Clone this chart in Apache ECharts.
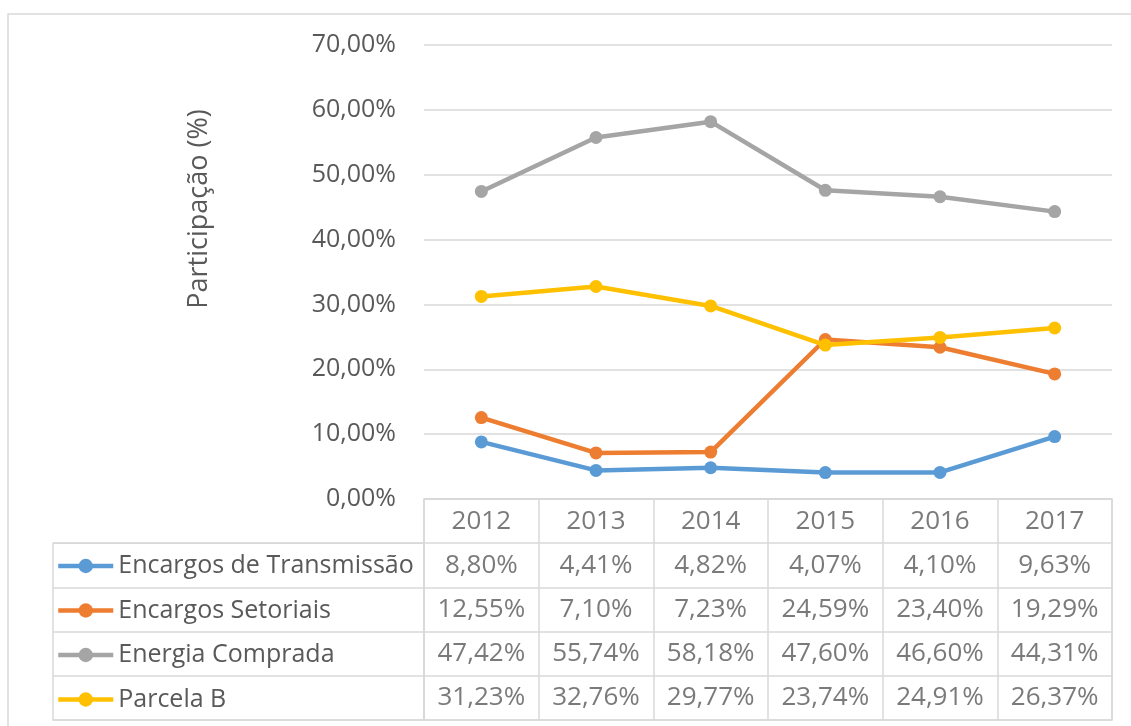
<!DOCTYPE html>
<html><head><meta charset="utf-8">
<script src="https://cdn.jsdelivr.net/npm/echarts@6/dist/echarts.min.js"></script>
<style>html,body{margin:0;padding:0;background:#fff}#c{width:1131px;height:726px}</style>
</head><body><div id="c"></div>
<script>
const years = ['2012','2013','2014','2015','2016','2017'];
const seriesNames = ['Encargos de Transmissão','Encargos Setoriais','Energia Comprada','Parcela B'];
const transmissao = [8.80, 4.41, 4.82, 4.07, 4.10, 9.63];
const setoriais = [12.55, 7.10, 7.23, 24.59, 23.40, 19.29];
const comprada = [47.42, 55.74, 58.18, 47.60, 46.60, 44.31];
const parcelaB = [31.23, 32.76, 29.77, 23.74, 24.91, 26.37];
const colors = ['#5B9BD5','#ED7D31','#A5A5A5','#FFC000'];
const yTicks = [0,10,20,30,40,50,60,70];

const allValues = [transmissao, setoriais, comprada, parcelaB];
const FONT = '"Open Sans", "Noto Sans", sans-serif';
const TXT = '#595959';
const GRID = '#d9d9d9';
const fmt = v => v.toFixed(2).replace('.', ',') + '%';

const tableRows = ['hdr'].concat(seriesNames);
const tableData = [];
years.forEach((y, i) => tableData.push([i, 0, y]));
allValues.forEach((arr, r) => arr.forEach((v, i) => tableData.push([i, r + 1, fmt(v)])));

const chart = echarts.init(document.getElementById('c'));
chart.setOption({
  animation: false,
  backgroundColor: '#fff',
  textStyle: { fontFamily: FONT },
  graphic: [
    { type: 'rect', shape: { x: 8, y: 14, width: 1200, height: 800 }, style: { fill: 'none', stroke: GRID, lineWidth: 1.5 }, silent: true, z: -10 },
    { type: 'text', x: 199, y: 209, rotation: Math.PI / 2, style: { text: 'Participação (%)', fontSize: 27, fontFamily: FONT, fill: TXT, align: 'center', verticalAlign: 'middle' } }
  ],
  legend: {
    orient: 'vertical', left: 51, top: 546, itemWidth: 55, itemHeight: 18, itemGap: 14.5,
    data: seriesNames, selectedMode: false,
    lineStyle: { width: 4.5 },
    textStyle: { fontSize: 25, color: TXT, fontFamily: FONT, lineHeight: 30 }
  },
  grid: [
    { left: 424, width: 688, top: 45, height: 454 },
    { left: 424, width: 688, top: 499, height: 221, show: true, borderColor: GRID, borderWidth: 1.5, backgroundColor: 'transparent' },
    { left: 53, width: 371, top: 543.2, height: 176.8, show: true, borderColor: GRID, borderWidth: 1.5, backgroundColor: 'transparent' }
  ],
  xAxis: [
    { type: 'category', gridIndex: 0, data: years, boundaryGap: true, axisLine: { show: false }, axisTick: { show: false }, axisLabel: { show: false } },
    { type: 'category', gridIndex: 1, data: years, boundaryGap: true, axisLine: { show: false }, axisTick: { show: false }, axisLabel: { show: false }, splitLine: { show: true, lineStyle: { color: GRID, width: 1.5 } } },
    { type: 'value', gridIndex: 2, show: false }
  ],
  yAxis: [
    { type: 'value', gridIndex: 0, min: yTicks[0], max: yTicks[yTicks.length - 1], interval: 10,
      axisLine: { show: false }, axisTick: { show: false },
      axisLabel: { fontSize: 25, color: TXT, margin: 28, fontFamily: FONT, formatter: v => fmt(v) },
      splitLine: { lineStyle: { color: GRID, width: 1.5 } } },
    { type: 'category', gridIndex: 1, data: tableRows, inverse: true, boundaryGap: true,
      axisLine: { show: false }, axisTick: { show: false }, axisLabel: { show: false },
      splitLine: { show: true, lineStyle: { color: GRID, width: 1.5 } } },
    { type: 'category', gridIndex: 2, data: seriesNames, inverse: true, boundaryGap: true,
      axisLine: { show: false }, axisTick: { show: false }, axisLabel: { show: false },
      splitLine: { show: true, lineStyle: { color: GRID, width: 1.5 } } }
  ],
  series: seriesNames.map((n, k) => ({
    name: n, type: 'line', xAxisIndex: 0, yAxisIndex: 0, data: allValues[k],
    symbol: 'circle', symbolSize: 13, color: colors[k],
    lineStyle: { width: 4.5, color: colors[k] }, itemStyle: { color: colors[k] }, z: 3 + (k === 3 ? 1 : 0)
  })).concat([{
    type: 'scatter', xAxisIndex: 1, yAxisIndex: 1, data: tableData, symbolSize: 1,
    itemStyle: { color: 'rgba(0,0,0,0)' }, silent: true,
    label: { show: true, position: 'inside', fontSize: 26, color: TXT, fontFamily: FONT, formatter: p => p.data[2] }
  }])
});
</script></body></html>
